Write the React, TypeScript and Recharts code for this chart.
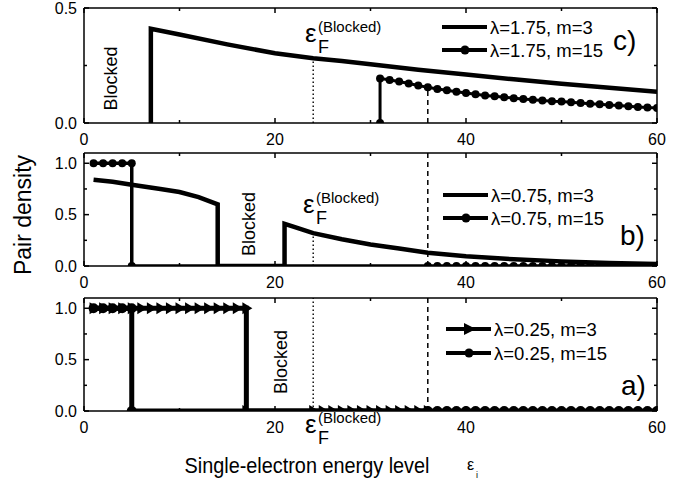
import { LineChart, Line, XAxis, YAxis, ReferenceLine } from 'recharts'

const FONT = '"Liberation Sans", Arial, sans-serif'

const X_TICKS = [0, 10, 20, 30, 40, 50, 60]
const X_LABELS = [0, 20, 40, 60]

// panel c) lambda = 1.75
const cM3X = [7, 7, 10, 15, 20, 24, 27, 30, 35, 40, 45, 50, 55, 60]
const cM3Y = [0, 0.41, 0.385, 0.342, 0.303, 0.282, 0.27, 0.255, 0.232, 0.211, 0.19, 0.171, 0.153, 0.136]
const cM15X = [31, 31, 32, 33, 34, 35, 36, 37, 38, 39, 40, 41, 42, 43, 44, 45, 46, 47, 48, 49, 50, 51, 52, 53, 54, 55, 56, 57, 58, 59, 60]
const cM15Y = [0, 0.194, 0.187, 0.18, 0.172, 0.163, 0.155, 0.148, 0.142, 0.136, 0.13, 0.125, 0.12, 0.116, 0.112, 0.108, 0.104, 0.101, 0.098, 0.095, 0.093, 0.09, 0.087, 0.084, 0.081, 0.078, 0.076, 0.073, 0.07, 0.067, 0.065]

// panel b) lambda = 0.75
const bM3X = [1, 3, 5, 8, 10, 12, 14, 14, 21, 21, 22, 24, 27, 30, 33, 36, 40, 45, 50, 55, 60]
const bM3Y = [0.84, 0.82, 0.79, 0.75, 0.72, 0.67, 0.6, 0, 0, 0.41, 0.38, 0.32, 0.26, 0.21, 0.17, 0.13, 0.095, 0.065, 0.045, 0.03, 0.02]
const bM15X = [1, 2, 3, 4, 5, 5, 36, 37, 38, 39, 40, 41, 42, 43, 44, 45, 46, 47, 48, 49, 50, 51, 52, 53, 54, 55, 56, 57, 58, 59, 60]
const bM15Y = [1, 1, 1, 1, 1, 0, 0, 0, 0, 0, 0, 0, 0, 0, 0, 0, 0, 0, 0, 0, 0, 0, 0, 0, 0, 0, 0, 0, 0, 0, 0]

// panel a) lambda = 0.25
const aM3X = [1, 2, 3, 4, 5, 6, 7, 8, 9, 10, 11, 12, 13, 14, 15, 16, 17, 17, 24, 25, 26, 27, 28, 29, 30, 31, 32, 33, 34, 35, 36]
const aM3Y = [1, 1, 1, 1, 1, 1, 1, 1, 1, 1, 1, 1, 1, 1, 1, 1, 1, 0, 0, 0, 0, 0, 0, 0, 0, 0, 0, 0, 0, 0, 0]
const aM15X = bM15X
const aM15Y = bM15Y

const EF = 24
const EDGE = 36
const cEFTop = 0.282
const cEdgeTop = 0.155
const bEFTop = 0.32

const zip = (xs: number[], ys: number[]) => xs.map((x, i) => ({ x, y: ys[i] }))

const BottomTick = (p: any) => {
  const major = X_LABELS.includes(p.payload.value)
  return (
    <g>
      <line x1={p.x} x2={p.x} y1={p.y} y2={p.y - (major ? 5 : 3)} stroke="#000" strokeWidth={1.5} />
      {major && <text x={p.x} y={p.y + 22} textAnchor="middle" fontSize={16} fontFamily={FONT}>{p.payload.value}</text>}
    </g>
  )
}
const TopTick = (p: any) => {
  const major = X_LABELS.includes(p.payload.value)
  return <line x1={p.x} x2={p.x} y1={p.y} y2={p.y + (major ? 5 : 3)} stroke="#000" strokeWidth={1.5} />
}
const isMajorY = (v: number) => Math.abs(v * 2 - Math.round(v * 2)) < 1e-6
const LeftTick = (p: any) => {
  const major = isMajorY(p.payload.value)
  return (
    <g>
      <line x1={p.x} x2={p.x + (major ? 5 : 3)} y1={p.y} y2={p.y} stroke="#000" strokeWidth={1.5} />
      {major && <text x={p.x - 7} y={p.y + 5.5} textAnchor="end" fontSize={16} fontFamily={FONT}>{p.payload.value.toFixed(1)}</text>}
    </g>
  )
}
const RightTick = (p: any) => {
  const major = isMajorY(p.payload.value)
  return <line x1={p.x} x2={p.x - (major ? 5 : 3)} y1={p.y} y2={p.y} stroke="#000" strokeWidth={1.5} />
}

const circleDot = (r: number) => (p: any) => <circle key={`c${p.index}`} cx={p.cx} cy={p.cy} r={r} fill="#000" />
const triDot = (p: any) => (
  <path key={`t${p.index}`} d={`M${p.cx - 4},${p.cy - 6} L${p.cx + 6},${p.cy} L${p.cx - 4},${p.cy + 6} Z`} fill="#000" />
)

const axisLine = { stroke: '#000', strokeWidth: 1.5 }

function Panel({ top, plotH, yMax, yTicks, children }: any) {
  return (
    <div style={{ position: 'absolute', left: 0, top }}>
      <LineChart width={689} height={plotH + 38} margin={{ top: 0, right: 0, bottom: 0, left: 0 }}>
        <XAxis xAxisId="b" dataKey="x" type="number" domain={[0, 60]} ticks={X_TICKS} interval={0} allowDataOverflow
          height={30} tickSize={0} tickMargin={0} tickLine={false} axisLine={axisLine} tick={BottomTick} />
        <XAxis xAxisId="t" orientation="top" dataKey="x" type="number" domain={[0, 60]} ticks={X_TICKS} interval={0} allowDataOverflow
          height={8} tickSize={0} tickMargin={0} tickLine={false} axisLine={axisLine} tick={TopTick} />
        <YAxis yAxisId="l" type="number" domain={[0, yMax]} ticks={yTicks} interval={0} allowDataOverflow
          width={84} tickSize={0} tickMargin={0} tickLine={false} axisLine={axisLine} tick={LeftTick} />
        <YAxis yAxisId="r" orientation="right" type="number" domain={[0, yMax]} ticks={yTicks} interval={0} allowDataOverflow
          width={32} tickSize={0} tickMargin={0} tickLine={false} axisLine={axisLine} tick={RightTick} />
        {children}
      </LineChart>
    </div>
  )
}

const ser = { xAxisId: 'b', yAxisId: 'l', dataKey: 'y', type: 'linear' as const, stroke: '#000', isAnimationActive: false }
const dotted = { xAxisId: 'b', yAxisId: 'l', stroke: '#000', strokeWidth: 1.4, strokeDasharray: '1.5 2.5' }
const dashed = { xAxisId: 'b', yAxisId: 'l', stroke: '#000', strokeWidth: 1.5, strokeDasharray: '5 4' }

function EpsF({ x, y }: { x: number; y: number }) {
  return (
    <g fontFamily={FONT}>
      <text x={x} y={y} fontSize={26}>ε</text>
      <text x={x + 13} y={y + 11} fontSize={18}>F</text>
      <text x={x + 13} y={y - 10} fontSize={15}>(Blocked)</text>
    </g>
  )
}
function Blocked({ cx, cy }: { cx: number; cy: number }) {
  return <text transform={`translate(${cx + 6.5},${cy}) rotate(-90)`} textAnchor="middle" fontSize={18} fontFamily={FONT}>Blocked</text>
}
function LegendRow({ x, y, text, mark }: { x: number; y: number; text: string; mark?: 'circle' | 'tri' }) {
  const mx = x + 23
  return (
    <g>
      <line x1={x} x2={x + 45} y1={y} y2={y} stroke="#000" strokeWidth={4} />
      {mark === 'circle' && <circle cx={mx} cy={y} r={4.5} fill="#000" />}
      {mark === 'tri' && <path d={`M${mx - 5},${y - 6} L${mx + 7},${y} L${mx - 5},${y + 6} Z`} fill="#000" />}
      <text x={x + 48} y={y + 6.5} fontSize={18.5} fontFamily={FONT}>{text}</text>
    </g>
  )
}

export default function App() {
  return (
    <div style={{ position: 'absolute', left: 0, top: 0, width: 689, height: 485, background: '#fff', fontFamily: FONT }}>
      <Panel top={0} plotH={115} yMax={0.5} yTicks={[0, 0.25, 0.5]}>
        <ReferenceLine {...dotted} segment={[{ x: EF, y: 0 }, { x: EF, y: cEFTop }]} />
        <ReferenceLine {...dashed} segment={[{ x: EDGE, y: 0 }, { x: EDGE, y: cEdgeTop }]} />
        <Line {...ser} data={zip(cM3X, cM3Y)} strokeWidth={4.5} dot={false} />
        <Line {...ser} data={zip(cM15X, cM15Y)} strokeWidth={3} dot={circleDot(4)} />
      </Panel>
      <Panel top={145} plotH={113} yMax={1.1} yTicks={[0, 0.25, 0.5, 0.75, 1]}>
        <ReferenceLine {...dotted} segment={[{ x: EF, y: 0 }, { x: EF, y: bEFTop }]} />
        <ReferenceLine {...dashed} x={EDGE} />
        <Line {...ser} data={zip(bM3X, bM3Y)} strokeWidth={4.5} dot={false} />
        <Line {...ser} data={zip(bM15X, bM15Y)} strokeWidth={3.5} dot={circleDot(4)} />
      </Panel>
      <Panel top={290} plotH={113} yMax={1.1} yTicks={[0, 0.25, 0.5, 0.75, 1]}>
        <ReferenceLine {...dotted} x={EF} />
        <ReferenceLine {...dashed} x={EDGE} />
        <Line {...ser} data={zip(aM3X, aM3Y)} strokeWidth={5} dot={triDot} />
        <Line {...ser} data={zip(aM15X, aM15Y)} strokeWidth={5} dot={circleDot(5)} />
      </Panel>
      <svg width={689} height={485} style={{ position: 'absolute', left: 0, top: 0, pointerEvents: 'none' }}>
        <text transform="translate(31,215) rotate(-90)" textAnchor="middle" fontSize={23} fontFamily={FONT}>Pair density</text>
        <text x={307} y={473} textAnchor="middle" fontSize={22} textLength={245} lengthAdjust="spacingAndGlyphs" fontFamily={FONT}>Single-electron energy level</text>
        <text x={467} y={470} fontSize={16} fontFamily={FONT}>ε</text>
        <text x={476} y={478} fontSize={9} fontFamily={FONT}>i</text>

        <Blocked cx={110.5} cy={78.5} />
        <Blocked cx={248.5} cy={224} />
        <Blocked cx={280} cy={362} />

        <EpsF x={305} y={42} />
        <EpsF x={303} y={213} />
        <EpsF x={305} y={433} />

        <LegendRow x={442} y={27} text="λ=1.75, m=3" />
        <LegendRow x={442} y={50} text="λ=1.75, m=15" mark="circle" />
        <LegendRow x={443} y={195} text="λ=0.75, m=3" />
        <LegendRow x={443} y={218} text="λ=0.75, m=15" mark="circle" />
        <LegendRow x={446} y={329} text="λ=0.25, m=3" mark="tri" />
        <LegendRow x={446} y={353} text="λ=0.25, m=15" mark="circle" />

        <text x={613} y={50} fontSize={28} fontFamily={FONT}>c)</text>
        <text x={620} y={245} fontSize={28} fontFamily={FONT}>b)</text>
        <text x={621} y={395} fontSize={28} fontFamily={FONT}>a)</text>
      </svg>
    </div>
  )
}
